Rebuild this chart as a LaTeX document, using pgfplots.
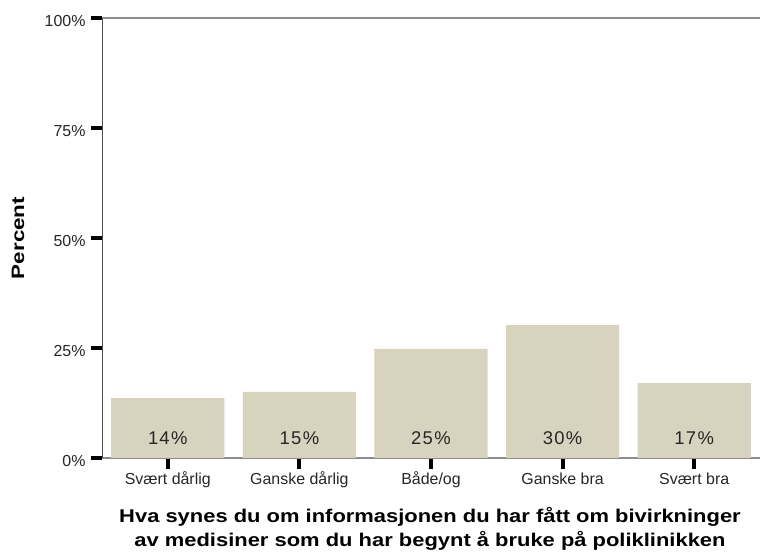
\documentclass[border=0pt]{standalone}
\usepackage{fontspec}
\setmainfont{Liberation Sans}
\usepackage{graphicx}
\usepackage{pgfplots}
\pgfplotsset{compat=1.18}
\definecolor{barfill}{RGB}{216,211,190}
\definecolor{axgray}{RGB}{140,140,140}
\definecolor{axdark}{RGB}{80,80,80}
\tikzset{barlab/.style={font=\fontsize{18.5}{20}\selectfont, text=black!85}}
\newcommand{\bl}[2]{#1\kern1.2bp#2\kern1.5bp\%}
\begin{document}
\begin{tikzpicture}[x=1bp,y=1bp]
\begin{axis}[
  at={(102bp,96bp)}, anchor=south west,
  scale only axis, width=658bp, height=440bp,
  xmin=-0.5, xmax=4.5, ymin=0, ymax=100,
  axis x line*=bottom, axis y line*=left,
  x axis line style={draw=axgray, line width=1.4pt, -},
  y axis line style={draw=axdark, line width=0.8pt, -},
  xtick={0,1,2,3,4},
  xticklabels={Svært dårlig, Ganske dårlig, Både/og, Ganske bra, Svært bra},
  ytick={0,25,50,75,100},
  yticklabels={0\%,25\%,50\%,75\%,100\%},
  tick align=outside,
  major tick length=11bp,
  tick style={black, line width=4bp},
  ticklabel style={font=\fontsize{16}{18}\selectfont, text=black!85},
  yticklabel style={xshift=-2bp, yshift=-3bp},
  xticklabel style={text height=12bp, text depth=4bp, yshift=0bp},
  clip=false,
]
\addplot[ybar, bar width=0.86, fill=barfill, draw=none] coordinates {
  (0,13.6) (1,15.0) (2,24.8) (3,30.2) (4,17.0)
};
\draw[axgray, line width=1.6pt] (rel axis cs:0,1) -- (rel axis cs:1,1);
\node[barlab] at (axis cs:0,4.6) {\bl14};
\node[barlab] at (axis cs:1,4.6) {\bl15};
\node[barlab] at (axis cs:2,4.6) {\bl25};
\node[barlab] at (axis cs:3,4.6) {\bl30};
\node[barlab] at (axis cs:4,4.6) {\bl17};
\end{axis}
\node[rotate=90, font=\bfseries\fontsize{18}{20}\selectfont] at (18bp,316bp) {\scalebox{1.25}[1]{Percent}};
\node[font=\bfseries\fontsize{18.5}{20}\selectfont] at (430bp,37bp) {\scalebox{1.19}[1]{Hva synes du om informasjonen du har fått om bivirkninger}};
\node[font=\bfseries\fontsize{18.5}{20}\selectfont] at (430bp,13bp) {\scalebox{1.19}[1]{av medisiner som du har begynt å bruke på poliklinikken}};
\pgfresetboundingbox
\useasboundingbox (0,0) rectangle (760bp,554bp);
\end{tikzpicture}
\end{document}
